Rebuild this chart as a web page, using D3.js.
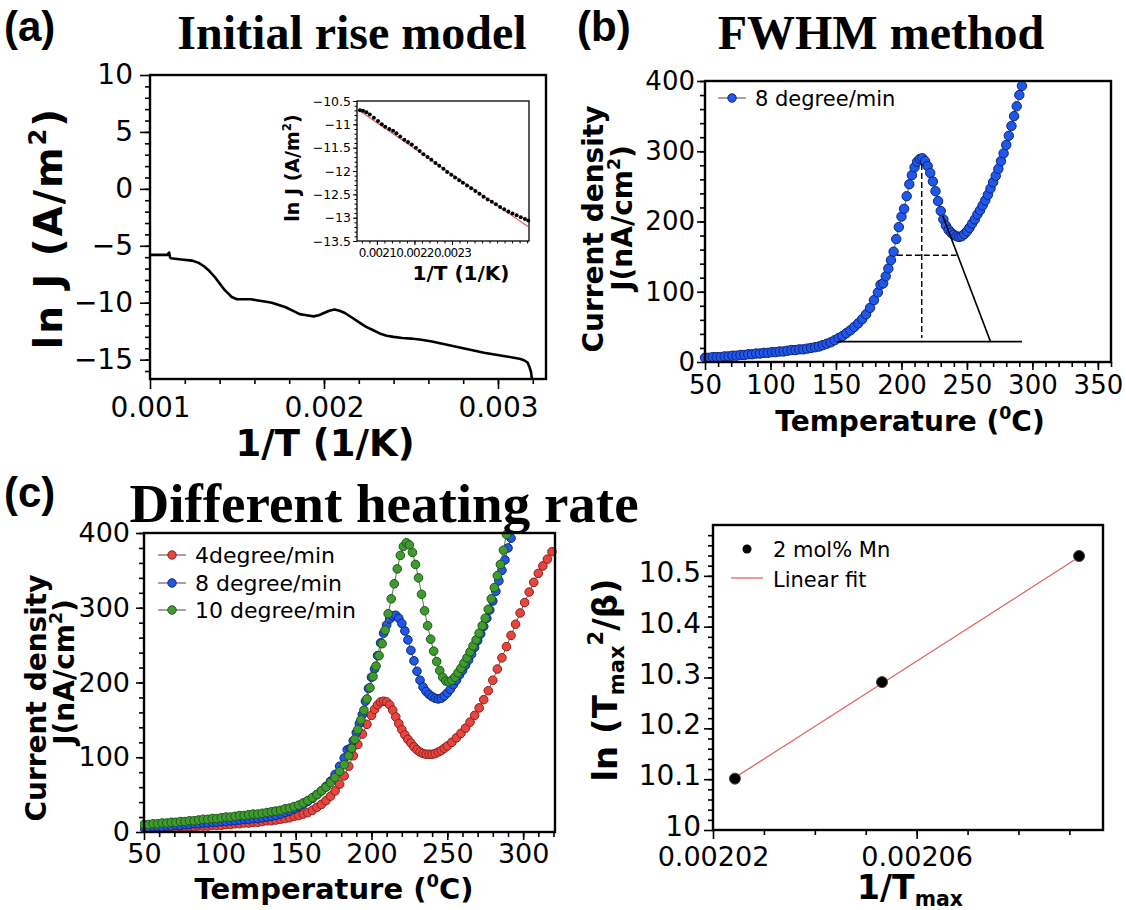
<!DOCTYPE html>
<html>
<head>
<meta charset="utf-8">
<script src="https://cdn.jsdelivr.net/npm/d3@7"></script>
<style>
  body { margin: 0; background: #fff; }
  svg { display: block; }
</style>
</head>
<body>
<svg id="fig" width="1126" height="910"></svg>
<script>
// ---------- (a) ln J versus 1/T ----------
const invTA = [0.001, 0.00105, 0.0011, 0.00111, 0.001115, 0.00112, 0.00118, 0.00124, 0.00128, 0.00131,
  0.00134, 0.00137, 0.0014, 0.00143, 0.00147, 0.0015, 0.00153, 0.00158, 0.00162, 0.00166,
  0.0017, 0.00174, 0.00178, 0.00182, 0.00186, 0.0019, 0.00194, 0.00197, 0.002, 0.00203,
  0.00206, 0.00209, 0.00212, 0.00216, 0.0022, 0.00224, 0.00228, 0.00232, 0.00236, 0.0024,
  0.00245, 0.0025, 0.00256, 0.00262, 0.00268, 0.00274, 0.0028, 0.00286, 0.00292, 0.00298,
  0.00304, 0.0031, 0.00313, 0.00315, 0.00317, 0.00318, 0.00319, 0.003195];
const lnJA = [-5.8, -5.8, -5.8, -5.6, -6.0, -6.1, -6.2, -6.3, -6.5, -6.8,
  -7.2, -7.7, -8.3, -8.9, -9.5, -9.7, -9.7, -9.7, -9.8, -9.9,
  -10.0, -10.2, -10.4, -10.7, -11.0, -11.1, -11.2, -11.1, -10.9, -10.7,
  -10.6, -10.7, -10.9, -11.3, -11.7, -12.1, -12.4, -12.7, -12.9, -13.0,
  -13.1, -13.15, -13.25, -13.4, -13.6, -13.8, -14.0, -14.2, -14.4, -14.55,
  -14.7, -14.85, -14.95, -15.05, -15.25, -15.6, -16.1, -16.7];
const ticksAX = [0.001, 0.002, 0.003];
const ticksAY = [-15, -10, -5, 0, 5, 10];

// inset: initial-rise region with linear fit
const invTIn = [0.002055, 0.002063, 0.002072, 0.002081, 0.002092, 0.002103, 0.002113, 0.002122, 0.002133, 0.002143,
  0.002152, 0.002162, 0.002173, 0.002183, 0.002193, 0.002204, 0.002214, 0.002224, 0.002235, 0.002245,
  0.002256, 0.002266, 0.002277, 0.002287, 0.002298, 0.002308, 0.002319, 0.002329, 0.00234, 0.002351,
  0.002362, 0.002373, 0.002384, 0.002395, 0.002406, 0.002417, 0.002428, 0.002439, 0.00245, 0.002461,
  0.002472, 0.002483, 0.002494, 0.002503];
const lnJIn = [-10.7, -10.71, -10.74, -10.79, -10.86, -10.93, -11.0, -11.05, -11.1, -11.14,
  -11.19, -11.26, -11.33, -11.38, -11.43, -11.5, -11.57, -11.64, -11.7, -11.76,
  -11.83, -11.89, -11.95, -12.02, -12.08, -12.14, -12.2, -12.25, -12.31, -12.37,
  -12.43, -12.49, -12.55, -12.61, -12.66, -12.71, -12.77, -12.82, -12.87, -12.91,
  -12.95, -12.99, -13.03, -13.06];
const fitIn = [[0.00205, -10.69], [0.002502, -13.19]];
const ticksInX = [0.0021, 0.0022, 0.0023];
const ticksInY = [-13.5, -13, -12.5, -12, -11.5, -11, -10.5];

// ---------- (b)/(c) current density versus temperature ----------
const rate4 = [[50,5],[53,5],[56,5],[59,5],[62,6],[65,6],[68,6],[71,6],[74,7],[77,7],[80,7],[83,7],[86,8],[89,8],
  [92,8],[95,9],[98,9],[101,9],[104,10],[107,10],[110,11],[113,11],[116,12],[119,12],[122,13],[125,13],[128,14],
  [131,15],[134,15],[137,16],[140,17],[143,18],[146,19],[149,21],[152,22],[155,24],[158,26],[161,29],[164,33],
  [167,37],[170,42],[173,48],[176,55],[179,64],[182,75],[185,88],[188,102],[191,117],[194,131],[197,144],
  [200,156],[202,164],[204,170],[206,174],[208,175],[210,174],[212,170],[214,163],[216,154],[218,145],[220,137],
  [222,130],[224,124],[226,119],[228,114],[230,110],[232,107],[234,105],[236,104],[238,104],[240,104],[242,105],
  [244,107],[246,109],[248,112],[250,115],[253,120],[256,126],[259,132],[262,139],[265,147],[268,156],[271,166],
  [274,177],[277,189],[280,203],[283,218],[286,233],[289,248],[292,263],[295,278],[298,293],[301,307],[304,321],
  [307,334],[310,346],[313,356],[316,365],[319,375]];
const rate8 = [[50,6],[53,6],[56,7],[59,7],[62,7],[65,8],[68,8],[71,9],[74,9],[77,10],[80,10],[83,11],[86,11],
  [89,12],[92,12],[95,13],[98,13],[101,14],[104,14],[107,15],[110,15],[113,16],[116,17],[119,17],[122,18],
  [125,18],[128,19],[131,20],[134,21],[137,22],[140,24],[143,26],[146,28],[149,31],[152,34],[155,37],[158,41],
  [161,45],[164,50],[167,55],[170,61],[173,68],[176,77],[179,88],[182,99],[184,110],[186,112],[188,122],[190,133],
  [192,145],[194,157],[196,175],[198,192],[200,207],[202,218],[204,236],[206,253],[208,266],[210,277],[212,285],
  [214,289],[216,290],[218,286],[220,279],[222,269],[224,257],[226,243],[228,229],[230,215],[232,203],[234,194],
  [236,188],[238,184],[240,181],[242,179],[244,178],[246,179],[248,182],[250,186],[252,191],[254,197],[256,203],
  [258,210],[260,216],[262,223],[264,230],[266,238],[268,247],[270,256],[272,265],[274,275],[276,286],[278,297],
  [280,309],[282,322],[284,336],[286,350],[288,364],[290,380],[292,393]];
const rate10 = [[50,10],[53,10],[56,11],[59,11],[62,12],[65,12],[68,13],[71,13],[74,14],[77,14],[80,15],[83,15],
  [86,16],[89,17],[92,17],[95,18],[98,18],[101,19],[104,20],[107,20],[110,21],[113,22],[116,22],[119,23],[122,24],
  [125,24],[128,25],[131,26],[134,27],[137,28],[140,29],[143,31],[146,32],[149,34],[152,36],[155,39],[158,42],
  [161,46],[164,50],[167,55],[170,60],[173,66],[176,73],[179,81],[182,90],[185,102],[187,112],[189,124],[191,137],
  [193,150],[195,163],[197,178],[199,193],[201,208],[203,222],[205,236],[207,252],[209,270],[211,292],[213,312],
  [215,332],[217,352],[219,370],[221,382],[223,387],[225,384],[227,374],[229,358],[231,340],[233,318],[235,296],
  [237,276],[239,258],[241,242],[243,228],[245,216],[247,207],[249,202],[251,201],[253,203],[255,207],[257,213],
  [259,219],[261,226],[263,233],[265,241],[267,249],[269,257],[271,266],[273,276],[275,286],[277,298],[279,312],
  [281,327],[283,343],[285,358],[287,377],[289,398]];
const ticksTB = [50, 100, 150, 200, 250, 300, 350];
const ticksTC = [50, 100, 150, 200, 250, 300];
const ticksJ = [0, 100, 200, 300, 400];

// FWHM construction on the 8 degree/min peak
const fwhmBase = [[151, 29], [292, 29]];
const fwhmPeak = [[215.5, 282], [215.5, 34]];
const fwhmHalf = [[196.5, 152], [242, 152]];
const fwhmSlope = [[231.5, 208], [268, 29]];

// ---------- (d) ln(Tmax^2/beta) versus 1/Tmax ----------
const invTmax = [0.0020243, 0.0020532, 0.0020919];
const lnRatio = [10.101, 10.291, 10.539];
const fitD = [[0.0020243, 10.103], [0.0020919, 10.537]];
const ticksDX = [0.00202, 0.00206];
const ticksDY = [10, 10.1, 10.2, 10.3, 10.4, 10.5];

// ---------- drawing ----------
const SANS = "'DejaVu Sans', Verdana, sans-serif";
const SERIF = "'Liberation Serif', 'Times New Roman', serif";
const TAG = "'Liberation Sans', Arial, sans-serif";
const svg = d3.select('#fig');
svg.append('rect').attr('width', 1126).attr('height', 910).attr('fill', '#fff');

function richText(parent, x, y, parts, o) {
  const t = parent.append('text').attr('x', x).attr('y', y)
    .attr('font-family', o.family).attr('font-size', o.size)
    .attr('font-weight', o.weight || 'normal')
    .attr('text-anchor', o.anchor || 'middle').attr('fill', '#000');
  if (o.spacing) t.attr('letter-spacing', o.spacing);
  if (o.rotate) t.attr('transform', `rotate(${o.rotate},${x},${y})`);
  let shift = 0;
  parts.forEach(([s, k]) => {
    const ts = t.append('tspan').text(s);
    const target = k === 'sup' ? -0.42 : k === 'sub' ? 0.2 : 0;
    const dy = (target - shift) * o.size;
    if (dy) ts.attr('dy', dy.toFixed(2));
    if (k !== 'n') ts.attr('font-size', o.size * 0.62);
    shift = target;
  });
  return t;
}

function range(a, b, step) {
  const out = [];
  const n = Math.round((b - a) / step);
  for (let i = 0; i <= n; i++) out.push(+(a + i * step).toFixed(10));
  return out;
}

function axes(g, xs, ys, c) {
  const [xl, xr] = xs.range();
  const [yb, yt] = ys.range();
  const style = sel => {
    sel.select('.domain').remove();
    sel.selectAll('.tick line').attr('stroke', '#000').attr('stroke-width', c.tickW || 1.6);
    sel.selectAll('.tick text').attr('font-family', SANS).attr('font-size', c.font).attr('fill', '#000');
  };
  g.append('g').attr('transform', `translate(0,${yb})`)
    .call(d3.axisBottom(xs).tickValues(c.xMinor).tickSize(c.minor).tickFormat('')).call(style);
  g.append('g').attr('transform', `translate(${xl},0)`)
    .call(d3.axisLeft(ys).tickValues(c.yMinor).tickSize(c.minor).tickFormat('')).call(style);
  g.append('g').attr('transform', `translate(0,${yb})`)
    .call(d3.axisBottom(xs).tickValues(c.xMajor).tickSize(c.major).tickPadding(c.padX || 4).tickFormat(c.xFmt)).call(style);
  const yAx = g.append('g').attr('transform', `translate(${xl},0)`)
    .call(d3.axisLeft(ys).tickValues(c.yMajor).tickSize(c.major).tickPadding(c.padY || 3).tickFormat(c.yFmt)).call(style);
  if (c.yDy) yAx.selectAll('.tick text').attr('dy', c.yDy);
  g.append('rect').attr('x', xl).attr('y', yt).attr('width', xr - xl).attr('height', yb - yt)
    .attr('fill', 'none').attr('stroke', '#000').attr('stroke-width', c.frameW || 2.4);
}

const minus = s => s.replace('-', '\u2212');

// ===== panel (a) =====
const gA = svg.append('g');
const xA = d3.scaleLinear().domain([0.001, 0.003276]).range([150, 546]);
const yA = d3.scaleLinear().domain([-16.7, 10]).range([379, 75]);
gA.append('path')
  .datum(invTA.map((v, i) => [v, lnJA[i]]))
  .attr('fill', 'none').attr('stroke', '#000').attr('stroke-width', 2.6)
  .attr('stroke-linejoin', 'round')
  .attr('d', d3.line().x(d => xA(d[0])).y(d => yA(d[1])));
axes(gA, xA, yA, {
  xMajor: ticksAX, xMinor: range(0.0012, 0.0032, 0.0002), yMajor: ticksAY, yMinor: range(-16, 9, 1),
  xFmt: d3.format('.3f'), yFmt: d => minus(String(d)), font: 28, major: 10, minor: 5, padX: 8, padY: 7
});
richText(gA, 325, 456, [['1/T (1/K)', 'n']], { family: SANS, size: 37, weight: 'bold' });
richText(gA, 62, 228, [['ln J (A/m', 'n'], ['2', 'sup'], [')', 'n']], { family: SANS, size: 39, weight: 'bold', rotate: -90, spacing: 2 });

// inset
const gI = svg.append('g');
const xI = d3.scaleLinear().domain([0.002047, 0.002505]).range([357, 529]);
const yI = d3.scaleLinear().domain([-13.5, -10.5]).range([241, 101]);
axes(gI, xI, yI, {
  xMajor: ticksInX, xMinor: range(0.00206, 0.0025, 0.00002), yMajor: ticksInY, yMinor: range(-13.4, -10.6, 0.1),
  xFmt: d3.format('.4f'), yFmt: d => minus(String(d)), font: 12.5, major: 4, minor: 2.5, tickW: 1, frameW: 1.3, padX: 3, padY: 2
});
gI.selectAll('g.tick text').filter(function () { return this.textContent.startsWith('0.00'); })
  .attr('font-size', 12).attr('letter-spacing', -0.8);
gI.append('path').datum(fitIn)
  .attr('fill', 'none').attr('stroke', '#e05a5a').attr('stroke-width', 1.2)
  .attr('d', d3.line().x(d => xI(d[0])).y(d => yI(d[1])));
gI.selectAll('circle.pt').data(invTIn.map((v, i) => [v, lnJIn[i]])).join('circle')
  .attr('cx', d => xI(d[0])).attr('cy', d => yI(d[1])).attr('r', 2).attr('fill', '#000');
richText(gI, 461, 280, [['1/T (1/K)', 'n']], { family: SANS, size: 20, weight: 'bold' });
richText(gI, 299, 168, [['ln J (A/m', 'n'], ['2', 'sup'], [')', 'n']], { family: SANS, size: 19, weight: 'bold', rotate: -90 });

// ===== series helper for (b), (c) =====
const COLORS = {
  r4: { fill: '#e8453f', stroke: '#8c1f1b' },
  r8: { fill: '#1f58ea', stroke: '#0c237a' },
  r10: { fill: '#3f9b2f', stroke: '#1d5716' }
};
function series(g, xs, ys, data, col, r) {
  g.append('path').datum(data).attr('fill', 'none').attr('stroke', '#666').attr('stroke-width', 1)
    .attr('d', d3.line().x(d => xs(d[0])).y(d => ys(d[1])));
  g.append('g').selectAll('circle').data(data).join('circle')
    .attr('cx', d => xs(d[0])).attr('cy', d => ys(d[1])).attr('r', r)
    .attr('fill', col.fill).attr('stroke', col.stroke).attr('stroke-width', 1);
}
function legendItem(g, x, y, text, col, size) {
  g.append('line').attr('x1', x - 14).attr('x2', x + 14).attr('y1', y).attr('y2', y)
    .attr('stroke', '#666').attr('stroke-width', 1.2);
  g.append('circle').attr('cx', x).attr('cy', y).attr('r', 4.2)
    .attr('fill', col.fill).attr('stroke', col.stroke).attr('stroke-width', 1);
  g.append('text').attr('x', x + 23).attr('y', y).attr('dy', '0.36em')
    .attr('font-family', SANS).attr('font-size', size).text(text);
}

// ===== panel (b) =====
const gB = svg.append('g');
const xB = d3.scaleLinear().domain([50, 360]).range([705, 1111]);
const yB = d3.scaleLinear().domain([0, 400]).range([362, 81]);
const lineB = d3.line().x(d => xB(d[0])).y(d => yB(d[1]));
series(gB, xB, yB, rate8, COLORS.r8, 4.7);
gB.append('path').datum(fwhmBase).attr('d', lineB).attr('stroke', '#000').attr('stroke-width', 1.6).attr('fill', 'none');
gB.append('path').datum(fwhmSlope).attr('d', lineB).attr('stroke', '#000').attr('stroke-width', 1.6).attr('fill', 'none');
gB.append('path').datum(fwhmPeak).attr('d', lineB).attr('stroke', '#000').attr('stroke-width', 1.4)
  .attr('stroke-dasharray', '6,3').attr('fill', 'none');
gB.append('path').datum(fwhmHalf).attr('d', lineB).attr('stroke', '#000').attr('stroke-width', 1.4)
  .attr('stroke-dasharray', '6,3').attr('fill', 'none');
axes(gB, xB, yB, {
  xMajor: ticksTB, xMinor: range(60, 360, 10), yMajor: ticksJ, yMinor: range(20, 400, 20),
  xFmt: d3.format('d'), yFmt: d3.format('d'), font: 26, major: 8, minor: 5, padX: 6, padY: 2
});
legendItem(gB, 732, 98, '8 degree/min', COLORS.r8, 21);
richText(gB, 910, 431, [['Temperature (', 'n'], ['0', 'sup'], ['C)', 'n']], { family: SANS, size: 28, weight: 'bold' });
richText(gB, 603, 229, [['Current density', 'n']], { family: SANS, size: 28, weight: 'bold', rotate: -90 });
richText(gB, 632, 218, [['J(nA/cm', 'n'], ['2', 'sup'], [')', 'n']], { family: SANS, size: 28, weight: 'bold', rotate: -90 });

// ===== panel (c) =====
const gC = svg.append('g');
const xC = d3.scaleLinear().domain([50, 321]).range([144, 555]);
const yC = d3.scaleLinear().domain([0, 400]).range([832, 533]);
const clipC = gC.append('clipPath').attr('id', 'clipC');
clipC.append('rect').attr('x', 140).attr('y', 527).attr('width', 420).attr('height', 310);
const plotC = gC.append('g').attr('clip-path', 'url(#clipC)');
series(plotC, xC, yC, rate4, COLORS.r4, 4.3);
series(plotC, xC, yC, rate8, COLORS.r8, 4.3);
series(plotC, xC, yC, rate10, COLORS.r10, 4.3);
axes(gC, xC, yC, {
  xMajor: ticksTC, xMinor: range(60, 320, 10), yMajor: ticksJ, yMinor: range(20, 400, 20),
  xFmt: d3.format('d'), yFmt: d3.format('d'), font: 27, major: 8, minor: 5, padX: 4, padY: 6
});
legendItem(gC, 172, 555, '4degree/min', COLORS.r4, 22);
legendItem(gC, 172, 583, '8 degree/min', COLORS.r8, 22);
legendItem(gC, 172, 610, '10 degree/min', COLORS.r10, 22);
richText(gC, 334, 899, [['Temperature (', 'n'], ['0', 'sup'], ['C)', 'n']], { family: SANS, size: 29, weight: 'bold' });
richText(gC, 46, 698, [['Current density', 'n']], { family: SANS, size: 28, weight: 'bold', rotate: -90 });
richText(gC, 74, 672, [['J(nA/cm', 'n'], ['2', 'sup'], [')', 'n']], { family: SANS, size: 28, weight: 'bold', rotate: -90 });

// ===== panel (d) =====
const gD = svg.append('g');
const xD = d3.scaleLinear().domain([0.00202, 0.0020966]).range([713, 1103]);
const yD = d3.scaleLinear().domain([10, 10.6]).range([830, 525]);
gD.append('path').datum(fitD).attr('fill', 'none').attr('stroke', '#e06666').attr('stroke-width', 1.3)
  .attr('d', d3.line().x(d => xD(d[0])).y(d => yD(d[1])));
gD.selectAll('circle.pt').data(invTmax.map((v, i) => [v, lnRatio[i]])).join('circle')
  .attr('cx', d => xD(d[0])).attr('cy', d => yD(d[1])).attr('r', 5.5)
  .attr('fill', '#000').attr('stroke', '#444').attr('stroke-width', 1);
axes(gD, xD, yD, {
  xMajor: ticksDX, xMinor: range(0.00203, 0.00209, 0.00001), yMajor: ticksDY, yMinor: range(10.02, 10.58, 0.02),
  xFmt: d3.format('.5f'), yFmt: d => String(d), font: 28, major: 9, minor: 5, padX: 8, padY: 3, yDy: '0.2em'
});
gD.selectAll('g.tick text').filter(function () { return this.textContent.startsWith('0.00'); })
  .attr('font-size', 27);
gD.append('circle').attr('cx', 747).attr('cy', 549).attr('r', 4.5).attr('fill', '#000');
gD.append('text').attr('x', 773).attr('y', 549).attr('dy', '0.36em').attr('font-family', SANS).attr('font-size', 21).text('2 mol% Mn');
gD.append('line').attr('x1', 731).attr('x2', 763).attr('y1', 578).attr('y2', 578).attr('stroke', '#e06666').attr('stroke-width', 1.3);
gD.append('text').attr('x', 773).attr('y', 579).attr('dy', '0.36em').attr('font-family', SANS).attr('font-size', 21).text('Linear fit');
richText(gD, 910, 899, [['1/T', 'n'], ['max', 'sub']], { family: SANS, size: 33, weight: 'bold' });
richText(gD, 617, 680, [['ln (T', 'n'], ['max', 'sub'], ['2', 'sup'], ['/β)', 'n']], { family: SANS, size: 34, weight: 'bold', rotate: -90 });

// ===== panel tags and titles =====
const tags = [['(a)', 4, 41], ['(b)', 577, 41], ['(c)', 4, 507]];
tags.forEach(([s, x, y]) => svg.append('text').attr('x', x).attr('y', y)
  .attr('font-family', TAG).attr('font-weight', 'bold').attr('font-size', 42).text(s));
const titles = [['Initial rise model', 352, 49, 48], ['FWHM method', 881, 49, 48], ['Different heating rate', 384, 522, 55]];
titles.forEach(([s, x, y, fs]) => svg.append('text').attr('x', x).attr('y', y).attr('text-anchor', 'middle')
  .attr('font-family', SERIF).attr('font-weight', 'bold').attr('font-size', fs).text(s));
</script>
</body>
</html>
